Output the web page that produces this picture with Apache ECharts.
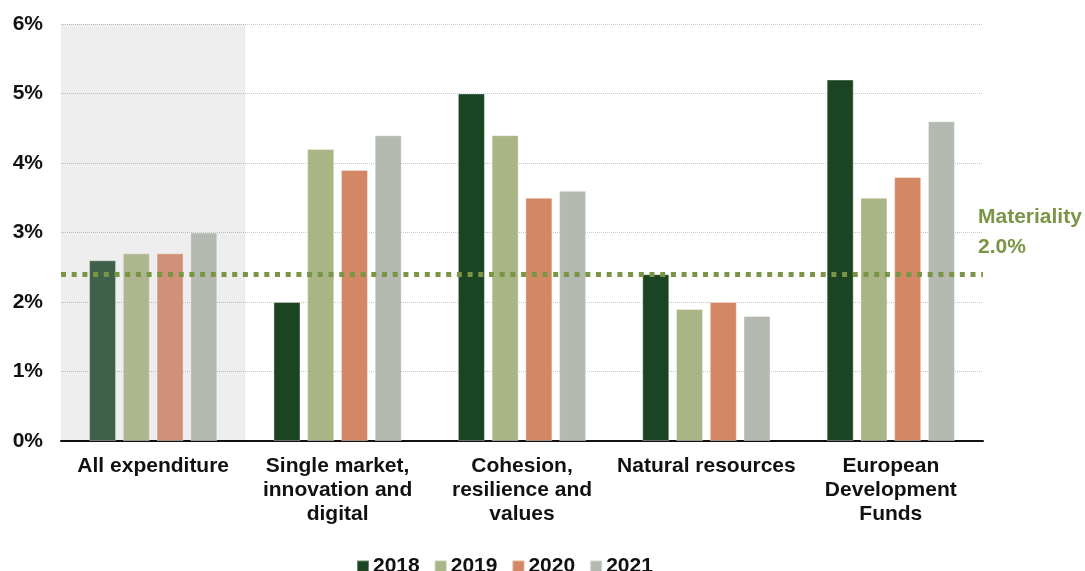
<!DOCTYPE html>
<html>
<head>
<meta charset="utf-8">
<script src="https://cdn.jsdelivr.net/npm/echarts@6/dist/echarts.min.js"></script>
<style>
  html, body { margin: 0; padding: 0; background: #ffffff; }
  #chart { width: 1085px; height: 571px; }
</style>
</head>
<body>
<div id="chart"></div>
<script>
// Estimated error rates by MFF heading, 2018-2021 (%)
const categories = [
  'All expenditure',
  'Single market,\ninnovation and\ndigital',
  'Cohesion,\nresilience and\nvalues',
  'Natural resources',
  'European\nDevelopment\nFunds'
];
const years = ['2018', '2019', '2020', '2021'];
const values2018 = [2.6, 2.0, 5.0, 2.4, 5.2];
const values2019 = [2.7, 4.2, 4.4, 1.9, 3.5];
const values2020 = [2.7, 3.9, 3.5, 2.0, 3.8];
const values2021 = [3.0, 4.4, 3.6, 1.8, 4.6];
const yTicks = [0, 1, 2, 3, 4, 5, 6];
const materialityLevel = 2.4;
const materialityText = 'Materiality\n2.0%';

const seriesValues = [values2018, values2019, values2020, values2021];
const colors = ['#1a4422', '#a9b584', '#d38765', '#b4bab2'];
// the "All expenditure" group is drawn in softer tones
const softColors = ['#3f6149', '#adb68f', '#d09178', '#b4bab2'];
const FONT = '"Liberation Sans", Arial, sans-serif';
const green = '#7a9546';

const series = years.map((y, i) => {
  const s = {
    name: y,
    type: 'bar',
    barWidth: 27,
    barGap: '25%',
    itemStyle: { color: colors[i], borderColor: 'rgba(255,255,255,0.35)', borderWidth: 1 },
    emphasis: { disabled: true },
    data: seriesValues[i].map((v, k) => k === 0
      ? { value: v, itemStyle: { color: softColors[i] } }
      : v)
  };
  if (i === 0) {
    s.markArea = {
      silent: true,
      itemStyle: { color: 'rgba(0,0,0,0.067)' },
      data: [[{ xAxis: categories[0], yAxis: yTicks[yTicks.length - 1] },
              { xAxis: categories[0], yAxis: yTicks[0] }]]
    };
    s.markLine = {
      silent: true,
      symbol: 'none',
      label: { show: false },
      lineStyle: { color: green, width: 5, type: [5, 5.7], opacity: 1 },
      data: [{ yAxis: materialityLevel }],
      z: 10
    };
  }
  return s;
});

const chart = echarts.init(document.getElementById('chart'), null, { renderer: 'canvas' });
chart.setOption({
  animation: false,
  backgroundColor: '#ffffff',
  color: colors,
  grid: { left: 61, right: 102, top: 24, bottom: 130, containLabel: false },
  legend: {
    data: years,
    left: 351,
    top: 551,
    icon: 'rect',
    itemWidth: 12,
    itemHeight: 12,
    itemGap: 14,
    textStyle: { fontFamily: FONT, fontWeight: 'bold', fontSize: 21, color: '#111111', padding: [0, 0, 0, -1] },
    selectedMode: false
  },
  xAxis: {
    type: 'category',
    data: categories,
    axisTick: { show: false },
    axisLine: { show: true, lineStyle: { color: '#111111', width: 2 } },
    axisLabel: {
      interval: 0,
      margin: 13,
      fontFamily: FONT,
      fontWeight: 'bold',
      fontSize: 21,
      lineHeight: 24,
      color: '#111111',
      align: 'center'
    }
  },
  yAxis: {
    type: 'value',
    min: yTicks[0],
    max: yTicks[yTicks.length - 1],
    interval: 1,
    axisLine: { show: false },
    axisTick: { show: false },
    axisLabel: {
      formatter: '{value}%',
      margin: 18,
      fontFamily: FONT,
      fontWeight: 'bold',
      fontSize: 21,
      color: '#111111'
    },
    splitLine: { show: true, lineStyle: { color: '#c8c8c8', width: 1, type: [1, 1] } }
  },
  graphic: [{
    type: 'text',
    left: 978,
    top: 202,
    style: {
      text: materialityText,
      fill: green,
      font: 'bold 21px ' + FONT,
      lineHeight: 30
    }
  }],
  series: series
});
</script>
</body>
</html>
